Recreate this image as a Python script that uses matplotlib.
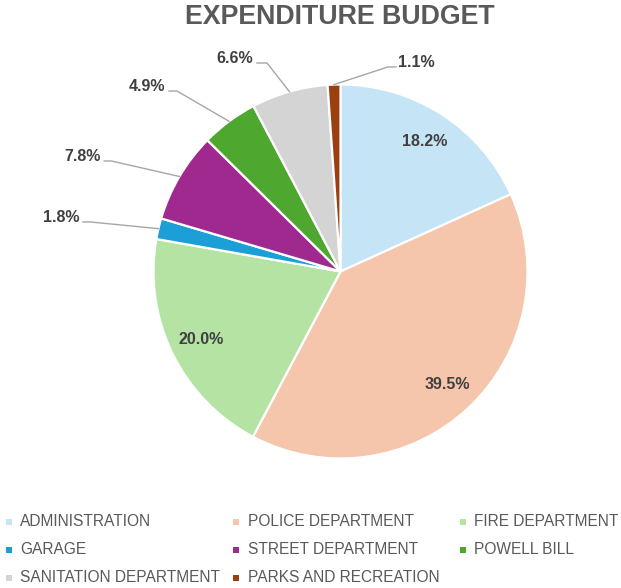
import numpy as np
import matplotlib
matplotlib.use("Agg")
import matplotlib.pyplot as plt
from matplotlib.patches import Rectangle

plt.rcParams["font.family"] = ["Liberation Sans", "DejaVu Sans"]

categories = ["ADMINISTRATION", "POLICE DEPARTMENT", "FIRE DEPARTMENT", "GARAGE",
              "STREET DEPARTMENT", "POWELL BILL", "SANITATION DEPARTMENT",
              "PARKS AND RECREATION"]
shares = [18.2, 39.5, 20.0, 1.8, 7.8, 4.9, 6.6, 1.1]
colors = ["#C5E4F5", "#F5C6AB", "#B5E3A3", "#1B9FD6",
          "#A0298F", "#4EA72E", "#D4D4D4", "#9A3F10"]
title = "EXPENDITURE BUDGET"

# callout geometry for the thin slices (radius units): elbow x, elbow y, end of horizontal run
callouts = {
    3: (-1.339, 0.265, -1.377),
    4: (-1.226, 0.591, -1.264),
    5: (-0.874, 0.965, -0.917),
    6: (-0.393, 1.115, -0.447),
    7: (0.254, 1.094, 0.297),
}

W, H = 621, 588
R = 187.0
cx, cy = 340.5, 271.5  # pie centre in pixels from top-left

fig = plt.figure(figsize=(W / 100, H / 100), dpi=100)
ax = fig.add_axes([0, 0, 1, 1])

wedges, _ = ax.pie(shares, colors=colors, startangle=90, counterclock=False,
                   radius=1.0, wedgeprops=dict(edgecolor="white", linewidth=1.6))

ax.set_aspect("auto")
ax.set_xlim(-cx / R, (W - cx) / R)
ax.set_ylim(-(H - cy) / R, cy / R)
ax.axis("off")

label_color = "#404040"
line_color = "#A6A6A6"
for i, (w, v) in enumerate(zip(wedges, shares)):
    mid = np.deg2rad((w.theta1 + w.theta2) / 2)
    txt = f"{v:.1f}%"
    if i in callouts:
        ex, ey, lx = callouts[i]
        px, py = np.cos(mid), np.sin(mid)
        ax.plot([px, ex, lx], [py, ey, ey], color=line_color, lw=1.0,
                solid_joinstyle="miter")
        if lx < 0:
            ax.text(lx - 0.02, ey + 0.022, txt, ha="right", va="center",
                    fontsize=11.5, fontweight="bold", color=label_color)
        else:
            ax.text(lx + 0.01, ey + 0.022, txt, ha="left", va="center",
                    fontsize=11.5, fontweight="bold", color=label_color)
    else:
        r = 0.83
        ax.text(r * np.cos(mid), r * np.sin(mid), txt, ha="center", va="center",
                fontsize=11.5, fontweight="bold", color=label_color)

fig.text(340 / W, 1 - 17.5 / H, title, ha="center", va="center",
         fontsize=19.3, fontweight="bold", color="#595959")

# legend: three columns, row-major order
col_marker = [9, 236, 463]
col_text = [20, 248, 474]
row_y = [521.5, 549.5, 577.5]
sq = 6
for k, (name, c) in enumerate(zip(categories, colors)):
    row, col = divmod(k, 3)
    mx, my = col_marker[col], row_y[row]
    fig.add_artist(Rectangle(((mx - sq / 2) / W, 1 - (my + sq / 2) / H), sq / W, sq / H,
                             transform=fig.transFigure, facecolor=c, edgecolor="none"))
    fig.text(col_text[col] / W, 1 - my / H, name, ha="left", va="center",
             fontsize=11.2, color="#595959")

fig.savefig("out.png", dpi=100, facecolor="white")
